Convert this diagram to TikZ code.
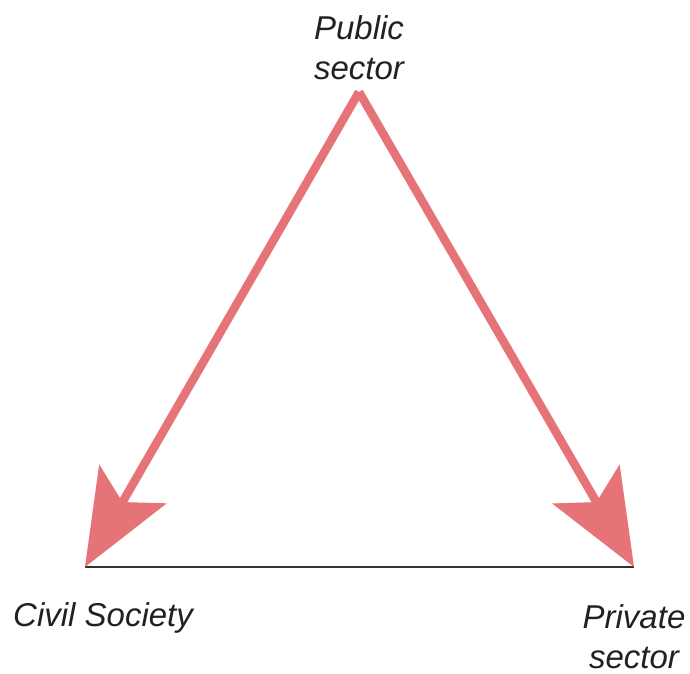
\documentclass[tikz,border=0pt]{standalone}
\usepackage{fontspec}
\setmainfont{Liberation Sans}
\usetikzlibrary{arrows.meta}
\definecolor{pinkc}{RGB}{229,115,119}
\definecolor{txtc}{RGB}{33,33,33}
\begin{document}
\begin{tikzpicture}[x=1pt,y=-1pt,
 lbl/.style={font=\fontsize{33}{40}\selectfont\itshape, text=txtc, align=center, inner sep=0pt},
 arr/.style={draw=pinkc, line width=8.5pt, -{Stealth[length=96pt,width=78pt,inset=21pt,line width=0pt,fill=pinkc]}}]
\useasboundingbox (0,0) rectangle (690,673);
\coordinate (apex) at (359,92);
\coordinate (cs) at (85,567);
\coordinate (ps) at (634,567);
\draw[line width=2pt, draw=black!80] (cs) -- (ps);
\draw[arr] (apex) -- (cs);
\draw[arr] (apex) -- (ps);
\node[lbl, anchor=base] (pub) at (359,79) {Public\\sector};
\node[lbl, anchor=base west] (civ) at (13,626) {Civil Society};
\node[lbl, anchor=base] (priv) at (634,668) {Private\\sector};
\end{tikzpicture}
\end{document}
